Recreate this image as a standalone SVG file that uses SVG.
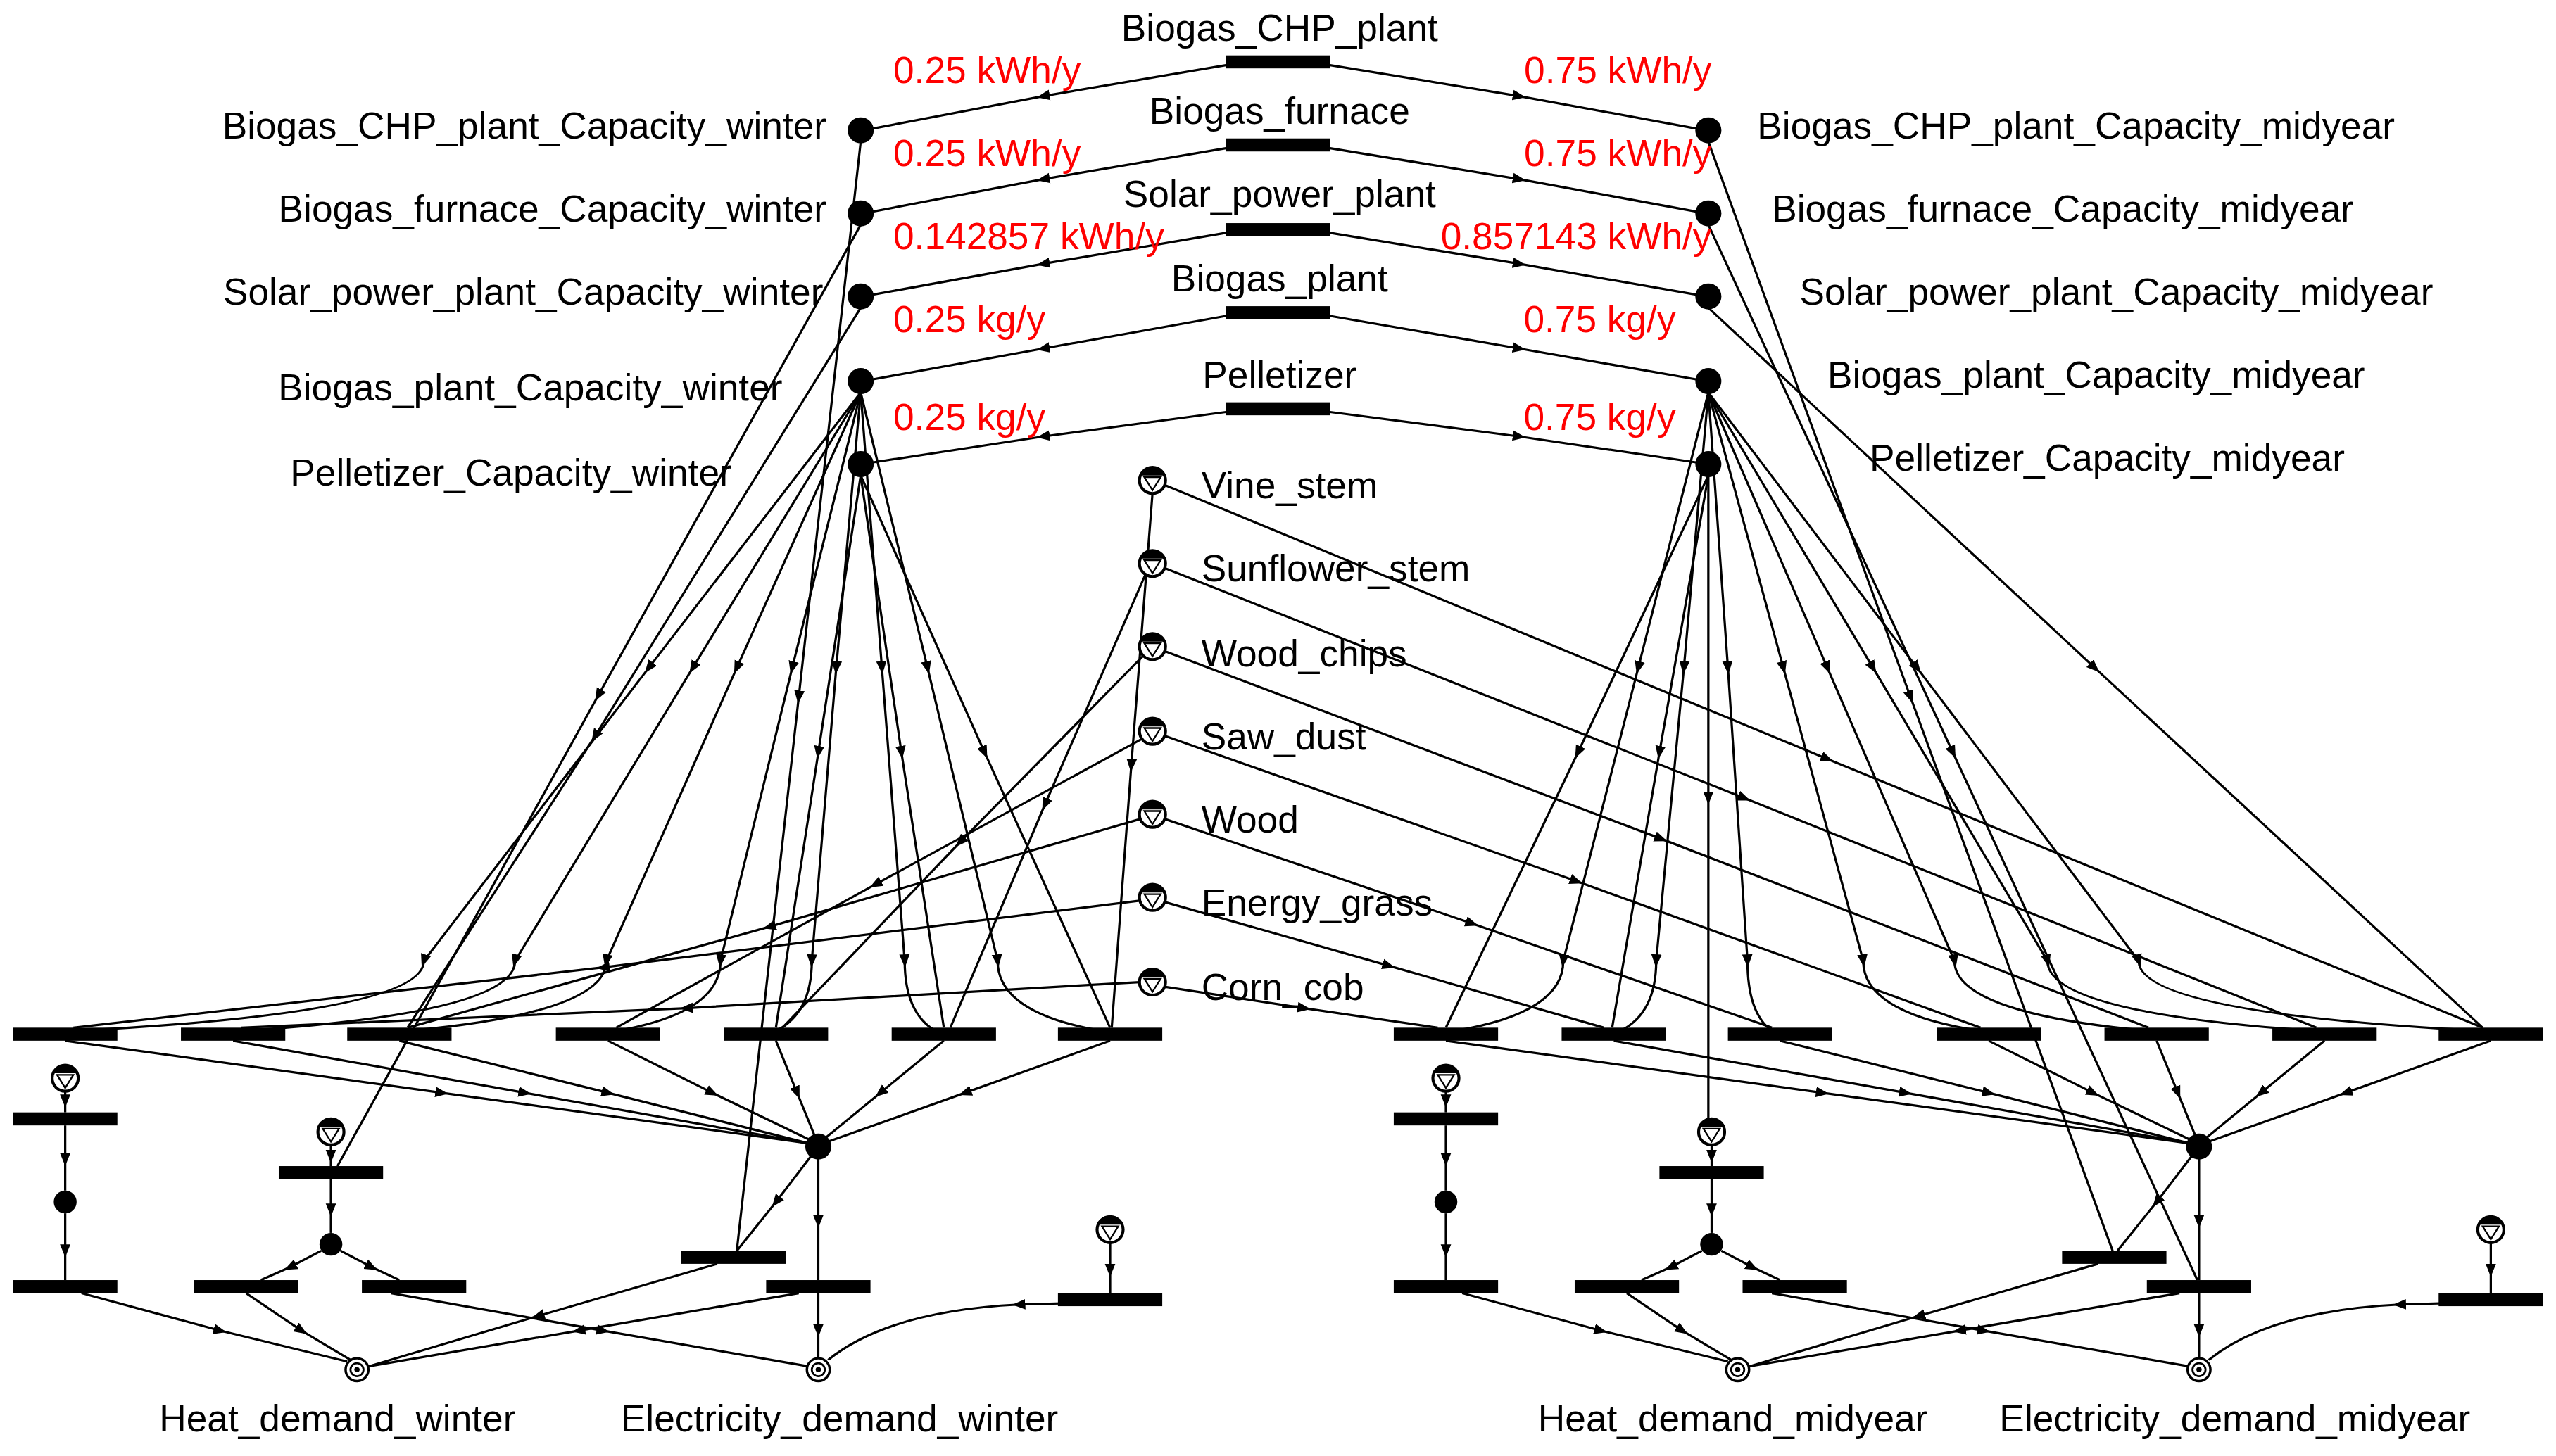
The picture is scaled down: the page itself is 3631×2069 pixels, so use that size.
<svg xmlns="http://www.w3.org/2000/svg" xmlns:xlink="http://www.w3.org/1999/xlink" width="3631" height="2069" viewBox="0 0 3631 2069">
<style>
.e{fill:none;stroke:#000;stroke-width:1.4;marker-mid:url(#a)}
.t{font-family:"Liberation Sans",Arial,sans-serif;font-size:23px;fill:#000}
.r{fill:#f00}
.p{fill:#000}
</style>
<defs>
<marker id="a" viewBox="0 0 10 10" refX="5" refY="5" markerWidth="8" markerHeight="8" orient="auto" markerUnits="userSpaceOnUse"><path d="M0,1 L10,5 L0,9z" fill="#000"/></marker>
<g id="src"><circle r="8" fill="#fff" stroke="#000" stroke-width="1.8"/><path d="M-7.5,-3 A8,8 0 0 1 7.5,-3Z" fill="#000"/><path d="M-5,-2 L5,-2 L0,6Z" fill="#fff" stroke="#000" stroke-width="1"/></g>
<g id="dem"><circle r="7" fill="#fff" stroke="#000" stroke-width="1.5"/><circle r="4" fill="none" stroke="#000" stroke-width="1.2"/><circle r="1.6" fill="#000"/></g>
<rect id="bar" x="-32" y="-4" width="64" height="8" fill="#000"/>
<g id="lower">
<g class="conn">
<path class="e" d="M40,639 L271,671 L496,702"/>
<path class="e" d="M143,639 L322,671 L496,702"/>
<path class="e" d="M245,639 L373,671 L496,702"/>
<path class="e" d="M373,639 L437,671 L497,700"/>
<path class="e" d="M476,639 L489,671 L500,698"/>
<path class="e" d="M579,639 L540,671 L506,699"/>
<path class="e" d="M681,639 L592,671 L508,701"/>
<path class="e" d="M502,704 L476,738 L452,768"/>
<path class="e" d="M502,711 L502,750 L502,786"/>
<path class="e" d="M502,794 L502,817 L502,834"/>
<path class="e" d="M490,794 L355,817 L226,839"/>
<path class="e" d="M440,776 L330,808 L226,839"/>
<path class="e" d="M50,794 L135,817 L213,836"/>
<path class="e" d="M151,794 L185,817 L215,835"/>
<path class="e" d="M240,794 L370,817 L496,839"/>
<path class="e" d="M660,800 L625,801 Q545,805 508,835"/>
<path class="e" d="M681,763 L681,780 L681,794"/>
<path class="e" d="M40,670 L40,676 L40,683"/>
<path class="e" d="M40,691 L40,712 L40,731"/>
<path class="e" d="M40,745 L40,768 L40,786"/>
<path class="e" d="M203,703 L203,710 L203,716"/>
<path class="e" d="M203,724 L203,743 L203,757"/>
<path class="e" d="M197,768 L178,778 L160,786"/>
<path class="e" d="M209,768 L228,778 L245,786"/>
</g>
<use xlink:href="#bar" x="40" y="635"/><use xlink:href="#bar" x="143" y="635"/><use xlink:href="#bar" x="245" y="635"/><use xlink:href="#bar" x="373" y="635"/><use xlink:href="#bar" x="476" y="635"/><use xlink:href="#bar" x="579" y="635"/><use xlink:href="#bar" x="681" y="635"/>
<circle class="p" cx="502" cy="704" r="8"/>
<use xlink:href="#src" x="40" y="662"/><use xlink:href="#bar" x="40" y="687"/><circle class="p" cx="40" cy="738" r="7"/><use xlink:href="#bar" x="40" y="790"/>
<use xlink:href="#src" x="203" y="695"/><use xlink:href="#bar" x="203" y="720"/><circle class="p" cx="203" cy="764" r="7"/><use xlink:href="#bar" x="151" y="790"/><use xlink:href="#bar" x="254" y="790"/>
<use xlink:href="#bar" x="450" y="772"/><use xlink:href="#bar" x="502" y="790"/>
<use xlink:href="#src" x="681" y="755"/><use xlink:href="#bar" x="681" y="798"/>
<use xlink:href="#dem" x="219" y="841"/><use xlink:href="#dem" x="502" y="841"/>
</g>
</defs>
<rect width="3631" height="2069" fill="#fff"/>
<g transform="scale(2.3157,2.3143)">
<g id="connectors">
<path class="e" d="M752,40 L640,59 L535,79"/><path class="e" d="M816,40 L932,59 L1041,79"/>
<path class="e" d="M752,91 L640,110 L535,130"/><path class="e" d="M816,91 L932,110 L1041,130"/>
<path class="e" d="M752,143 L640,162 L535,181"/><path class="e" d="M816,143 L932,162 L1041,181"/>
<path class="e" d="M752,194 L640,214 L535,233"/><path class="e" d="M816,194 L932,214 L1041,233"/>
<path class="e" d="M752,253 L640,268 L535,284"/><path class="e" d="M816,253 L932,268 L1041,284"/>
<path class="e" d="M707,303 L694,470 L682,631"/>
<path class="e" d="M703,352 L641,494 L583,631"/>
<path class="e" d="M701,403 L589,517 L480,631"/>
<path class="e" d="M700,454 L537,543 L378,631"/>
<path class="e" d="M699,503 L472,569 L250,631"/>
<path class="e" d="M699,553 L370,594 L45,631"/>
<path class="e" d="M699,603 L421,619 L148,631"/>
<path class="e" d="M715,298 L1121,466 L1523,631"/>
<path class="e" d="M715,349 L1070,490 L1421,631"/>
<path class="e" d="M715,400 L1019,515 L1318,631"/>
<path class="e" d="M715,452 L967,541 L1215,631"/>
<path class="e" d="M715,503 L903,567 L1087,631"/>
<path class="e" d="M715,554 L852,593 L984,631"/>
<path class="e" d="M715,606 L800,619 L882,631"/>
<path class="e" d="M528,241 L398,410 L260,590 Q260,622 45,633"/>
<path class="e" d="M528,241 L425,410 L316,590 Q316,622 148,633"/>
<path class="e" d="M528,241 L452,410 L372,590 Q372,622 250,633"/>
<path class="e" d="M528,241 L486,410 L442,590 Q442,622 378,633"/>
<path class="e" d="M528,241 L513,410 L498,590 Q498,622 476,633"/>
<path class="e" d="M528,241 L541,410 L555,590 Q555,622 574,633"/>
<path class="e" d="M528,241 L569,410 L612,590 Q612,622 676,633"/>
<path class="e" d="M1048,241 L1005,410 L959,590 Q959,622 892,633"/>
<path class="e" d="M1048,241 L1033,410 L1016,590 Q1016,622 994,633"/>
<path class="e" d="M1048,241 L1060,410 L1072,590 Q1072,622 1087,633"/>
<path class="e" d="M1048,241 L1094,410 L1143,590 Q1143,622 1215,633"/>
<path class="e" d="M1048,241 L1121,410 L1199,590 Q1199,622 1318,633"/>
<path class="e" d="M1048,241 L1149,410 L1256,590 Q1256,622 1421,633"/>
<path class="e" d="M1048,241 L1176,410 L1312,590 Q1312,622 1523,633"/>
<path class="e" d="M528,292 L502,462 L476,631"/>
<path class="e" d="M528,292 L553,462 L579,631"/>
<path class="e" d="M528,292 L604,462 L681,631"/>
<path class="e" d="M1048,292 L968,462 L887,631"/>
<path class="e" d="M1048,292 L1018,462 L989,631"/>
<path class="e" d="M1048,292 L1048,490 L1048,687"/>
<path class="e" d="M528,87 L490,428 L452,768"/>
<path class="e" d="M528,138 L367,427 L207,716"/>
<path class="e" d="M528,189 L365,452 L250,631"/>
<path class="e" d="M1048,87 L1172,428 L1296,768"/>
<path class="e" d="M1048,138 L1198,462 L1348,786"/>
<path class="e" d="M1048,189 L1285,410 L1523,631"/>
</g>
<g id="lower-winter"><use xlink:href="#lower"/></g>
<g id="lower-midyear"><use xlink:href="#lower" x="847"/></g>
<g id="top-transitions">
<use xlink:href="#bar" x="784" y="38"/><use xlink:href="#bar" x="784" y="89"/><use xlink:href="#bar" x="784" y="141"/><use xlink:href="#bar" x="784" y="192"/><use xlink:href="#bar" x="784" y="251"/>
<text class="t" x="785" y="25" text-anchor="middle">Biogas_CHP_plant</text>
<text class="t" x="785" y="76" text-anchor="middle">Biogas_furnace</text>
<text class="t" x="785" y="127" text-anchor="middle">Solar_power_plant</text>
<text class="t" x="785" y="179" text-anchor="middle">Biogas_plant</text>
<text class="t" x="785" y="238" text-anchor="middle">Pelletizer</text>
</g>
<g id="capacity-places">
<circle class="p" cx="528" cy="80" r="8"/><circle class="p" cx="528" cy="131" r="8"/><circle class="p" cx="528" cy="182" r="8"/><circle class="p" cx="528" cy="234" r="8"/><circle class="p" cx="528" cy="285" r="8"/>
<circle class="p" cx="1048" cy="80" r="8"/><circle class="p" cx="1048" cy="131" r="8"/><circle class="p" cx="1048" cy="182" r="8"/><circle class="p" cx="1048" cy="234" r="8"/><circle class="p" cx="1048" cy="285" r="8"/>
<text class="t" x="507" y="85" text-anchor="end">Biogas_CHP_plant_Capacity_winter</text>
<text class="t" x="507" y="136" text-anchor="end">Biogas_furnace_Capacity_winter</text>
<text class="t" x="505" y="187" text-anchor="end">Solar_power_plant_Capacity_winter</text>
<text class="t" x="480" y="246" text-anchor="end">Biogas_plant_Capacity_winter</text>
<text class="t" x="449" y="298" text-anchor="end">Pelletizer_Capacity_winter</text>
<text class="t" x="1078" y="85">Biogas_CHP_plant_Capacity_midyear</text>
<text class="t" x="1087" y="136">Biogas_furnace_Capacity_midyear</text>
<text class="t" x="1104" y="187">Solar_power_plant_Capacity_midyear</text>
<text class="t" x="1121" y="238">Biogas_plant_Capacity_midyear</text>
<text class="t" x="1147" y="289">Pelletizer_Capacity_midyear</text>
</g>
<g id="weights">
<text class="t r" x="548" y="51">0.25 kWh/y</text><text class="t r" x="1050" y="51" text-anchor="end">0.75 kWh/y</text>
<text class="t r" x="548" y="102">0.25 kWh/y</text><text class="t r" x="1050" y="102" text-anchor="end">0.75 kWh/y</text>
<text class="t r" x="548" y="153">0.142857 kWh/y</text><text class="t r" x="1050" y="153" text-anchor="end">0.857143 kWh/y</text>
<text class="t r" x="548" y="204">0.25 kg/y</text><text class="t r" x="1028" y="204" text-anchor="end">0.75 kg/y</text>
<text class="t r" x="548" y="264">0.25 kg/y</text><text class="t r" x="1028" y="264" text-anchor="end">0.75 kg/y</text>
</g>
<g id="sources">
<use xlink:href="#src" x="707" y="295"/><use xlink:href="#src" x="707" y="346"/><use xlink:href="#src" x="707" y="397"/><use xlink:href="#src" x="707" y="449"/><use xlink:href="#src" x="707" y="500"/><use xlink:href="#src" x="707" y="551"/><use xlink:href="#src" x="707" y="603"/>
<text class="t" x="737" y="306">Vine_stem</text>
<text class="t" x="737" y="357">Sunflower_stem</text>
<text class="t" x="737" y="409">Wood_chips</text>
<text class="t" x="737" y="460">Saw_dust</text>
<text class="t" x="737" y="511">Wood</text>
<text class="t" x="737" y="562">Energy_grass</text>
<text class="t" x="737" y="614">Corn_cob</text>
</g>
<g id="demand-labels">
<text class="t" x="207" y="879" text-anchor="middle">Heat_demand_winter</text>
<text class="t" x="515" y="879" text-anchor="middle">Electricity_demand_winter</text>
<text class="t" x="1063" y="879" text-anchor="middle">Heat_demand_midyear</text>
<text class="t" x="1371" y="879" text-anchor="middle">Electricity_demand_midyear</text>
</g>
</g>
</svg>
